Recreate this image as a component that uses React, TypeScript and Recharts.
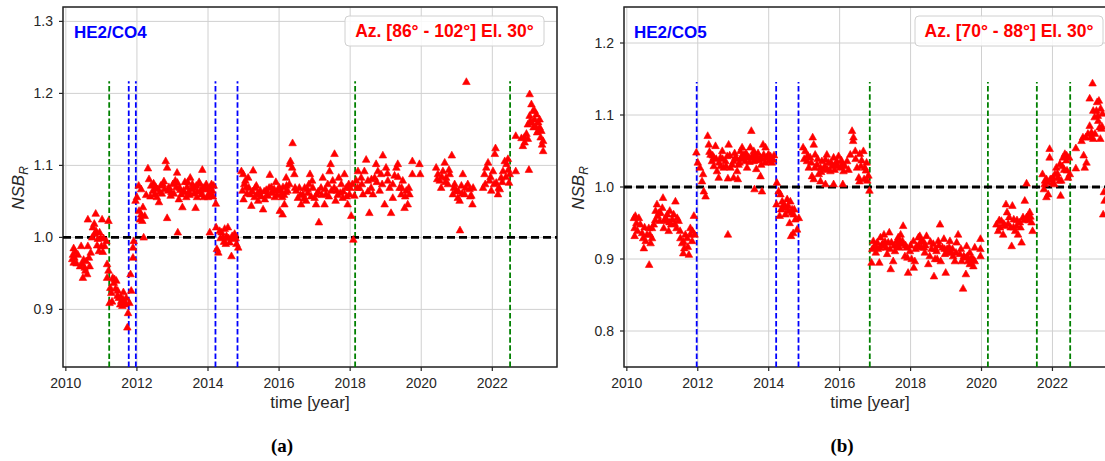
import {
  ScatterChart,
  Scatter,
  XAxis,
  YAxis,
  CartesianGrid,
  ReferenceLine,
  ReferenceArea
} from 'recharts';

type Pt = [number, number];

const xTicks = [2010, 2012, 2014, 2016, 2018, 2020, 2022];
const xDomain: [number, number] = [2009.92, 2023.82];
const co4YTicks = [0.9, 1.0, 1.1, 1.2, 1.3];
const co5YTicks = [0.8, 0.9, 1.0, 1.1, 1.2];

// vertical markers (years)
const co4Blue = [2011.77, 2011.97, 2014.21, 2014.83];
const co4Green = [2011.22, 2018.14, 2022.5];
const co5Blue = [2011.97, 2014.21, 2014.84];
const co5Green = [2016.85, 2020.18, 2021.56, 2022.5];

// ---- HE2/CO4 ----
const co4Early: Pt[] = [
  [2010.22, 0.986], [2010.2, 0.977], [2010.24, 0.973], [2010.22, 0.966], [2010.27, 0.981], [2010.18, 0.971],
  [2010.34, 0.977], [2010.43, 0.989], [2010.62, 0.989], [2010.46, 0.964], [2010.53, 0.959], [2010.57, 0.968],
  [2010.65, 0.973], [2010.67, 0.961], [2010.48, 0.945], [2010.55, 0.955], [2010.4, 0.961], [2010.62, 1.026],
  [2010.84, 1.034], [2011.02, 1.026], [2010.76, 1.015], [2010.85, 1.01], [2010.81, 1.006], [2010.95, 1.008],
  [2010.74, 1.001], [2010.9, 0.999], [2011.0, 0.989], [2011.09, 0.989], [2010.93, 0.982], [2011.04, 0.981],
  [2011.14, 0.996], [2011.2, 1.024], [2010.3, 0.965], [2010.5, 0.97], [2010.6, 0.95], [2010.7, 0.98],
  [2010.8, 1.02], [2010.88, 0.99], [2010.98, 1.0], [2011.06, 1.0]
];
const co4Dip: Pt[] = [
  [2011.16, 0.964], [2011.2, 0.955], [2011.16, 0.945], [2011.25, 0.931], [2011.28, 0.924], [2011.23, 0.91],
  [2011.32, 0.945], [2011.37, 0.943], [2011.42, 0.941], [2011.46, 0.927], [2011.49, 0.917], [2011.56, 0.913],
  [2011.61, 0.915], [2011.65, 0.908], [2011.53, 0.908], [2011.59, 0.906], [2011.7, 0.917], [2011.75, 0.896],
  [2011.79, 0.91], [2011.84, 0.927], [2011.73, 0.876], [2011.82, 0.95], [2011.89, 0.973], [2011.89, 0.987],
  [2011.91, 0.996], [2011.35, 0.938], [2011.4, 0.93], [2011.3, 0.912], [2011.45, 0.92], [2011.55, 0.918],
  [2011.62, 0.925], [2011.68, 0.91]
];
const co4Mid: Pt[] = [
  [2011.96, 1.052], [2012.0, 1.057], [2012.06, 1.038], [2012.09, 1.026], [2012.15, 1.024], [2012.12, 1.033],
  [2012.17, 1.043], [2012.22, 1.031], [2012.05, 1.073], [2012.12, 1.068], [2012.19, 1.001], [2012.31, 1.097],
  [2012.34, 1.082], [2012.4, 1.073], [2012.45, 1.066], [2012.53, 1.071], [2012.56, 1.057], [2012.62, 1.05],
  [2012.67, 1.073], [2012.73, 1.075], [2012.81, 1.107], [2012.85, 1.098], [2012.85, 1.028], [2012.9, 1.071],
  [2012.95, 1.059], [2013.01, 1.075], [2013.08, 1.08], [2013.13, 1.091], [2013.15, 1.008], [2013.18, 1.054],
  [2013.22, 1.067], [2013.28, 1.043], [2013.31, 1.066], [2013.35, 1.078], [2013.41, 1.071], [2013.46, 1.065],
  [2013.5, 1.084], [2013.56, 1.075], [2013.61, 1.062], [2013.65, 1.042], [2013.69, 1.057], [2013.75, 1.078],
  [2013.79, 1.066], [2013.84, 1.095], [2013.88, 1.057], [2013.92, 1.068], [2013.95, 1.075], [2014.01, 1.061],
  [2014.07, 1.071], [2014.12, 1.066], [2014.16, 1.073], [2014.22, 1.048], [2014.05, 1.008], [2012.5, 1.061],
  [2012.64, 1.064], [2012.78, 1.068], [2012.97, 1.064], [2013.11, 1.071], [2013.25, 1.061], [2013.39, 1.057],
  [2013.53, 1.068], [2013.67, 1.073], [2013.81, 1.061], [2014.0, 1.057], [2014.09, 1.061],
  [2012.26, 1.06], [2012.38, 1.058], [2012.47, 1.076], [2012.58, 1.068], [2012.7, 1.062], [2012.76, 1.079],
  [2012.88, 1.066], [2013.04, 1.062], [2013.14, 1.077], [2013.2, 1.07], [2013.33, 1.064], [2013.43, 1.078],
  [2013.48, 1.06], [2013.6, 1.07], [2013.7, 1.065], [2013.77, 1.075], [2013.86, 1.07], [2013.98, 1.068],
  [2014.1, 1.075], [2014.14, 1.058]
];
const co4Step: Pt[] = [
  [2014.23, 1.015], [2014.25, 0.985], [2014.29, 0.98], [2014.33, 1.01], [2014.38, 1.008], [2014.42, 1.001],
  [2014.47, 1.013], [2014.52, 1.003], [2014.56, 1.015], [2014.61, 0.994], [2014.66, 0.975], [2014.7, 0.999],
  [2014.75, 1.006], [2014.8, 0.992], [2014.85, 0.987], [2014.5, 0.992], [2014.35, 1.0], [2014.45, 0.995],
  [2014.58, 1.0], [2014.68, 1.003], [2014.78, 1.0]
];
const co4Late: Pt[] = [
  [2014.94, 1.093], [2014.99, 1.089], [2015.05, 1.08], [2015.13, 1.084], [2015.27, 1.094], [2014.97, 1.066],
  [2015.08, 1.071], [2015.19, 1.061], [2015.31, 1.057], [2015.41, 1.052], [2015.47, 1.066], [2015.55, 1.04],
  [2015.64, 1.067], [2015.74, 1.088], [2015.83, 1.066], [2015.91, 1.078], [2016.02, 1.038], [2016.09, 1.057],
  [2016.19, 1.064], [2016.3, 1.103], [2015.0, 1.054], [2015.22, 1.045], [2015.36, 1.073], [2015.6, 1.054],
  [2015.97, 1.068], [2015.46, 1.061], [2015.69, 1.059], [2015.78, 1.071], [2015.88, 1.057], [2016.11, 1.071],
  [2016.21, 1.073], [2015.02, 1.075], [2015.1, 1.062], [2015.15, 1.07], [2015.25, 1.065], [2015.33, 1.07],
  [2015.39, 1.062], [2015.5, 1.058], [2015.58, 1.065], [2015.66, 1.06], [2015.72, 1.07], [2015.8, 1.063],
  [2015.86, 1.068], [2015.94, 1.06], [2016.05, 1.066], [2016.14, 1.06],
  [2016.01, 1.07], [2016.06, 1.061], [2016.1, 1.033], [2016.15, 1.047], [2016.2, 1.084], [2016.24, 1.066],
  [2016.32, 1.107], [2016.38, 1.132], [2016.37, 1.098], [2016.43, 1.089], [2016.48, 1.066], [2016.53, 1.056],
  [2016.57, 1.07], [2016.62, 1.047], [2016.67, 1.061], [2016.72, 1.07], [2016.76, 1.052], [2016.81, 1.063],
  [2016.87, 1.089], [2016.93, 1.08], [2016.95, 1.07], [2017.0, 1.056], [2017.04, 1.047], [2017.12, 1.022],
  [2017.18, 1.07], [2017.23, 1.084], [2017.28, 1.047], [2017.32, 1.061], [2017.37, 1.075], [2017.42, 1.093],
  [2017.45, 1.103], [2017.51, 1.08], [2017.56, 1.117], [2017.59, 1.052], [2017.62, 1.066], [2017.68, 1.084],
  [2017.75, 1.075], [2017.79, 1.056], [2017.84, 1.089], [2017.89, 1.07], [2017.93, 1.047], [2017.98, 1.061],
  [2018.03, 1.031], [2018.06, 1.075], [2018.09, 0.998], [2016.29, 1.075], [2016.84, 1.075], [2017.06, 1.061],
  [2017.47, 1.066], [2017.72, 1.063], [2017.96, 1.075], [2016.45, 1.07], [2016.6, 1.06], [2016.7, 1.055],
  [2016.8, 1.068], [2016.9, 1.058], [2017.1, 1.065], [2017.2, 1.06], [2017.3, 1.068], [2017.4, 1.058],
  [2017.55, 1.07], [2017.65, 1.06], [2017.8, 1.065], [2017.9, 1.058], [2018.0, 1.07]
];
const co4Recent: Pt[] = [
  [2018.12, 1.059], [2018.17, 1.08], [2018.22, 1.093], [2018.26, 1.07], [2018.31, 1.084], [2018.36, 1.061],
  [2018.4, 1.093], [2018.45, 1.109], [2018.5, 1.08], [2018.54, 1.035], [2018.59, 1.07], [2018.64, 1.061],
  [2018.69, 1.084], [2018.73, 1.103], [2018.78, 1.093], [2018.83, 1.066], [2018.87, 1.089], [2018.92, 1.115],
  [2018.97, 1.047], [2019.01, 1.098], [2019.06, 1.08], [2019.11, 1.07], [2019.15, 1.035], [2019.2, 1.056],
  [2019.25, 1.087], [2019.3, 1.098], [2019.34, 1.103], [2019.39, 1.07], [2019.44, 1.061], [2019.48, 1.08],
  [2019.53, 1.042], [2019.58, 1.066], [2019.62, 1.047], [2019.67, 1.061], [2019.75, 1.107], [2019.75, 1.089],
  [2019.95, 1.103], [2019.97, 1.089], [2018.2, 1.07], [2018.33, 1.075], [2018.5, 1.065], [2018.6, 1.082],
  [2018.75, 1.078], [2018.9, 1.075], [2019.05, 1.09], [2019.2, 1.075], [2019.35, 1.085], [2019.45, 1.07],
  [2019.55, 1.058], [2019.65, 1.07],
  [2020.42, 1.098], [2020.47, 1.089], [2020.52, 1.08], [2020.56, 1.07], [2020.61, 1.093], [2020.66, 1.105],
  [2020.7, 1.084], [2020.75, 1.075], [2020.8, 1.089], [2020.86, 1.115], [2020.89, 1.061], [2020.94, 1.075],
  [2020.99, 1.066], [2021.03, 1.056], [2021.08, 1.052], [2021.09, 1.011], [2021.13, 1.073], [2021.17, 1.089],
  [2021.22, 1.061], [2021.27, 1.217], [2021.31, 1.075], [2021.36, 1.068], [2021.41, 1.059], [2021.44, 1.047],
  [2021.46, 1.07], [2020.45, 1.082], [2020.58, 1.085], [2020.68, 1.078], [2020.78, 1.095], [2020.92, 1.07],
  [2021.05, 1.065], [2021.15, 1.062], [2021.25, 1.07], [2021.38, 1.058],
  [2021.74, 1.07], [2021.78, 1.089], [2021.83, 1.098], [2021.88, 1.105], [2021.92, 1.08], [2021.97, 1.066],
  [2022.02, 1.093], [2022.07, 1.117], [2022.09, 1.125], [2022.11, 1.077], [2022.16, 1.061], [2022.21, 1.068],
  [2022.25, 1.084], [2022.3, 1.093], [2022.35, 1.107], [2022.4, 1.103], [2022.44, 1.11], [2022.47, 1.077],
  [2022.49, 1.089], [2021.8, 1.075], [2021.95, 1.085], [2022.05, 1.075], [2022.18, 1.07], [2022.28, 1.078],
  [2022.38, 1.085], [2022.45, 1.095]
];
const co4Final: Pt[] = [
  [2022.66, 1.142], [2022.66, 1.093], [2022.82, 1.139], [2022.86, 1.128], [2022.91, 1.133], [2022.96, 1.145],
  [2023.0, 1.158], [2023.05, 1.2], [2023.1, 1.186], [2023.15, 1.177], [2023.19, 1.165], [2023.24, 1.172],
  [2023.29, 1.161], [2023.33, 1.154], [2023.38, 1.149], [2023.43, 1.135], [2023.43, 1.121], [2023.03, 1.095],
  [2023.07, 1.163], [2023.16, 1.154], [2023.26, 1.147], [2023.36, 1.14], [2023.0, 1.138], [2023.19, 1.177],
  [2023.33, 1.165], [2022.9, 1.14], [2023.05, 1.17], [2023.12, 1.16], [2023.22, 1.155], [2023.3, 1.15],
  [2023.4, 1.13]
];

// ---- HE2/CO5 ----
const co5Early: Pt[] = [
  [2010.2, 0.958], [2010.24, 0.961], [2010.22, 0.944], [2010.27, 0.951], [2010.22, 0.933], [2010.34, 0.958],
  [2010.43, 0.937], [2010.46, 0.93], [2010.48, 0.916], [2010.53, 0.926], [2010.57, 0.935], [2010.62, 0.944],
  [2010.63, 0.893], [2010.67, 0.923], [2010.71, 0.93], [2010.76, 0.949], [2010.81, 0.968], [2010.85, 0.977],
  [2010.87, 0.961], [2010.93, 0.954], [2010.95, 0.965], [2011.0, 0.972], [2011.02, 0.986], [2011.04, 0.944],
  [2011.09, 0.958], [2011.14, 0.954], [2011.18, 0.94], [2011.21, 0.968], [2011.25, 0.949], [2011.28, 0.956],
  [2011.32, 0.963], [2011.37, 0.981], [2011.4, 0.944], [2011.42, 0.958], [2011.46, 0.954], [2011.51, 0.93],
  [2011.56, 0.923], [2011.59, 0.909], [2011.62, 0.916], [2011.65, 0.935], [2011.7, 0.93], [2011.75, 0.907],
  [2011.79, 0.935], [2011.84, 0.926], [2011.89, 0.961], [2011.91, 0.935], [2010.38, 0.949], [2010.71, 0.944],
  [2011.14, 0.963], [2011.79, 0.944], [2010.3, 0.94], [2010.5, 0.945], [2010.65, 0.935], [2010.8, 0.955],
  [2010.9, 0.965], [2011.06, 0.955], [2011.2, 0.952], [2011.35, 0.95], [2011.5, 0.94], [2011.6, 0.925],
  [2011.72, 0.918], [2011.85, 0.94]
];
const co5High1: Pt[] = [
  [2011.96, 1.049], [2012.0, 1.035], [2012.06, 1.028], [2012.12, 1.009], [2012.17, 0.995], [2012.22, 0.988],
  [2012.15, 1.019], [2012.28, 1.072], [2012.31, 1.06], [2012.36, 1.046], [2012.4, 1.037], [2012.45, 1.03],
  [2012.5, 1.058], [2012.54, 1.023], [2012.59, 1.014], [2012.64, 1.042], [2012.69, 1.051], [2012.73, 1.028],
  [2012.78, 1.037], [2012.83, 1.044], [2012.85, 1.013], [2012.87, 1.06], [2012.92, 1.028], [2012.97, 1.032],
  [2012.85, 0.935], [2013.01, 1.014], [2013.06, 1.042], [2013.11, 1.023], [2013.13, 1.012], [2013.15, 1.032],
  [2013.2, 1.051], [2013.22, 1.042], [2013.25, 1.056], [2013.3, 1.046], [2013.34, 1.037], [2013.39, 1.028],
  [2013.44, 1.042], [2013.48, 1.056], [2013.51, 1.079], [2013.53, 1.044], [2013.58, 1.037], [2013.6, 0.998],
  [2013.62, 1.046], [2013.65, 1.026], [2013.67, 1.042], [2013.72, 1.039], [2013.77, 1.016], [2013.79, 1.032],
  [2013.81, 0.995], [2013.84, 1.06], [2013.86, 1.046], [2013.91, 1.056], [2013.95, 1.042], [2014.0, 1.037],
  [2014.05, 1.044], [2014.09, 1.035], [2014.12, 1.039], [2012.45, 1.042], [2012.64, 1.03], [2013.01, 1.037],
  [2013.25, 1.044], [2013.39, 1.044], [2013.58, 1.051], [2013.77, 1.042], [2014.0, 1.046],
  [2012.33, 1.05], [2012.42, 1.045], [2012.52, 1.04], [2012.6, 1.035], [2012.7, 1.04], [2012.8, 1.03],
  [2012.9, 1.045], [2013.04, 1.048], [2013.1, 1.04], [2013.18, 1.035], [2013.28, 1.04], [2013.36, 1.048],
  [2013.46, 1.036], [2013.55, 1.042], [2013.64, 1.038], [2013.7, 1.048], [2013.82, 1.04], [2013.9, 1.035],
  [2013.98, 1.045], [2014.08, 1.04], [2014.15, 1.045]
];
const co5Step: Pt[] = [
  [2014.23, 1.007], [2014.28, 0.995], [2014.33, 0.991], [2014.22, 0.977], [2014.38, 0.981], [2014.42, 0.977],
  [2014.47, 0.972], [2014.52, 0.984], [2014.56, 0.968], [2014.61, 0.981], [2014.66, 0.97], [2014.7, 0.963],
  [2014.75, 0.956], [2014.69, 0.937], [2014.63, 0.933], [2014.8, 0.942], [2014.31, 0.961], [2014.47, 0.963],
  [2014.59, 0.951], [2014.85, 0.958], [2014.35, 0.97], [2014.45, 0.975], [2014.55, 0.975], [2014.65, 0.965],
  [2014.72, 0.97]
];
const co5High2: Pt[] = [
  [2014.97, 1.056], [2015.03, 1.051], [2015.08, 1.037], [2015.13, 1.028], [2015.17, 1.042], [2015.24, 1.07],
  [2015.27, 1.06], [2015.31, 1.046], [2015.36, 1.032], [2015.41, 1.019], [2015.46, 1.028], [2015.5, 1.037],
  [2015.55, 1.026], [2015.6, 1.039], [2015.64, 1.046], [2015.69, 1.035], [2015.74, 1.023], [2015.78, 1.03],
  [2015.83, 1.042], [2015.88, 1.032], [2015.92, 1.037], [2015.97, 1.044], [2016.02, 1.028], [2016.07, 1.032],
  [2016.09, 1.005], [2015.83, 1.005], [2015.6, 1.005], [2015.27, 1.012], [2015.46, 1.009], [2015.22, 1.016],
  [2016.11, 1.023], [2016.21, 1.037], [2016.3, 1.046], [2016.35, 1.079], [2016.38, 1.065], [2016.39, 1.07],
  [2016.44, 1.051], [2016.49, 1.028], [2016.54, 1.014], [2016.56, 1.009], [2016.57, 1.047], [2016.62, 1.038],
  [2016.67, 1.051], [2016.69, 1.012], [2016.71, 1.028], [2016.74, 1.024], [2016.78, 1.01], [2016.81, 1.017],
  [2016.84, 0.996], [2015.0, 1.04], [2015.1, 1.045], [2015.2, 1.035], [2015.3, 1.028], [2015.38, 1.04],
  [2015.48, 1.022], [2015.58, 1.03], [2015.66, 1.025], [2015.76, 1.035], [2015.86, 1.025], [2015.95, 1.03],
  [2016.05, 1.038], [2016.15, 1.03], [2016.25, 1.025], [2016.45, 1.04], [2016.6, 1.03], [2016.76, 1.035]
];
const co5Low: Pt[] = [
  [2016.9, 0.896], [2016.95, 0.926], [2016.97, 0.917], [2017.02, 0.91], [2017.06, 0.924], [2017.12, 0.896],
  [2017.15, 0.931], [2017.21, 0.922], [2017.25, 0.935], [2017.31, 0.917], [2017.34, 0.908], [2017.4, 0.938],
  [2017.44, 0.887], [2017.46, 0.924], [2017.51, 0.898], [2017.56, 0.912], [2017.61, 0.926], [2017.65, 0.931],
  [2017.68, 0.917], [2017.72, 0.935], [2017.75, 0.922], [2017.79, 0.947], [2017.84, 0.905], [2017.89, 0.917],
  [2017.93, 0.882], [2017.98, 0.912], [2018.03, 0.901], [2018.08, 0.926], [2018.09, 0.889], [2018.12, 0.898],
  [2018.17, 0.919], [2018.22, 0.931], [2018.26, 0.933], [2018.31, 0.917], [2018.36, 0.926], [2018.4, 0.91],
  [2018.45, 0.933], [2018.5, 0.894], [2018.54, 0.905], [2018.59, 0.915], [2018.64, 0.922], [2018.66, 0.877],
  [2018.69, 0.901], [2018.73, 0.912], [2018.78, 0.926], [2018.83, 0.949], [2018.85, 0.898], [2018.9, 0.917],
  [2018.94, 0.929], [2018.97, 0.908], [2018.99, 0.882], [2019.03, 0.915], [2019.09, 0.917], [2019.15, 0.91],
  [2019.2, 0.905], [2019.25, 0.898], [2019.3, 0.924], [2019.34, 0.935], [2019.39, 0.908], [2019.44, 0.898],
  [2019.48, 0.86], [2019.53, 0.903], [2019.56, 0.88], [2019.58, 0.919], [2019.62, 0.898], [2019.67, 0.894],
  [2019.72, 0.903], [2019.77, 0.891], [2019.81, 0.898], [2019.81, 0.917], [2019.97, 0.929], [2019.97, 0.915],
  [2019.97, 0.905], [2017.14, 0.917], [2017.37, 0.924], [2017.63, 0.919], [2017.77, 0.926], [2017.91, 0.903],
  [2018.24, 0.919], [2018.38, 0.917], [2018.75, 0.901], [2019.11, 0.926], [2019.67, 0.91],
  [2016.92, 0.915], [2017.0, 0.92], [2017.08, 0.915], [2017.18, 0.92], [2017.28, 0.925], [2017.42, 0.915],
  [2017.54, 0.92], [2017.7, 0.925], [2017.86, 0.92], [2018.0, 0.92], [2018.14, 0.915], [2018.28, 0.925],
  [2018.42, 0.92], [2018.56, 0.925], [2018.7, 0.915], [2018.8, 0.92], [2018.96, 0.915], [2019.06, 0.91],
  [2019.18, 0.915], [2019.28, 0.91], [2019.42, 0.915], [2019.5, 0.905], [2019.6, 0.905], [2019.7, 0.895],
  [2019.78, 0.9]
];
const co5Mid: Pt[] = [
  [2020.42, 0.949], [2020.47, 0.94], [2020.52, 0.945], [2020.56, 0.954], [2020.61, 0.935], [2020.66, 0.947],
  [2020.69, 0.977], [2020.72, 0.966], [2020.78, 0.959], [2020.82, 0.945], [2020.85, 0.919], [2020.87, 0.975],
  [2020.91, 0.956], [2020.95, 0.94], [2020.99, 0.947], [2021.03, 0.935], [2021.08, 0.952], [2021.13, 0.924],
  [2021.17, 0.959], [2021.22, 0.982], [2021.27, 0.959], [2021.31, 0.961], [2021.36, 0.966], [2021.41, 0.952],
  [2021.44, 0.94], [2021.27, 1.006], [2020.5, 0.955], [2020.63, 0.95], [2020.75, 0.95], [2020.9, 0.945],
  [2021.0, 0.955], [2021.1, 0.945], [2021.2, 0.955], [2021.33, 0.955], [2021.38, 0.96]
];
const co5Rise: Pt[] = [
  [2021.72, 1.019], [2021.76, 0.998], [2021.79, 1.01], [2021.83, 0.987], [2021.88, 0.991], [2021.92, 1.054],
  [2021.92, 1.042], [2021.94, 1.012], [2022.0, 1.007], [2022.07, 1.019], [2022.11, 1.028], [2022.16, 1.014],
  [2022.21, 1.033], [2022.23, 0.989], [2022.25, 1.01], [2022.3, 1.042], [2022.35, 1.047], [2022.39, 1.038],
  [2022.41, 1.024], [2022.44, 1.014], [2022.47, 1.042], [2022.49, 1.019], [2022.02, 1.014], [2021.83, 1.012],
  [2021.78, 1.005], [2021.86, 1.008], [2021.98, 1.012], [2022.05, 1.005], [2022.14, 1.02], [2022.2, 1.01],
  [2022.28, 1.03], [2022.33, 1.025], [2022.4, 1.045]
];
const co5Final: Pt[] = [
  [2022.66, 1.055], [2022.66, 1.027], [2022.82, 1.065], [2022.88, 1.045], [2022.91, 1.028], [2022.96, 1.035],
  [2022.86, 1.07], [2022.94, 1.07], [2023.0, 1.075], [2023.05, 1.086], [2023.1, 1.077], [2023.13, 1.145],
  [2023.15, 1.068], [2023.19, 1.098], [2023.24, 1.107], [2023.26, 1.119], [2023.29, 1.093], [2023.31, 1.121],
  [2023.33, 1.084], [2023.35, 1.068], [2023.38, 1.082], [2023.41, 1.103], [2023.45, 0.994], [2023.47, 0.982],
  [2023.43, 0.963], [2023.05, 1.124], [2023.15, 1.107], [2023.08, 1.07], [2023.2, 1.075], [2023.28, 1.1],
  [2023.36, 1.11], [2023.4, 1.085]
];

const co4Points = [...co4Early, ...co4Dip, ...co4Mid, ...co4Step, ...co4Late, ...co4Recent, ...co4Final];
const co5Points = [...co5Early, ...co5High1, ...co5Step, ...co5High2, ...co5Low, ...co5Mid, ...co5Rise, ...co5Final];

const ink = '#262626';

// matplotlib-like '^' marker, bbox centred on the point
function TriangleMark(props: any) {
  const { cx, cy } = props;
  if (cx == null || cy == null) return null;
  const hw = 3.8;
  const hh = 3.4;
  return (
    <polygon
      points={`${cx},${cy - hh} ${cx - hw},${cy + hh} ${cx + hw},${cy + hh}`}
      fill="#ff0000"
      stroke="#ff0000"
      strokeWidth={0.6}
    />
  );
}

interface PanelProps {
  left: number;
  yAxisWidth: number;
  points: Pt[];
  yDomain: [number, number];
  yTicks: number[];
  blue: number[];
  green: number[];
  lineTop: number;
}

function Panel({ left, yAxisWidth, points, yDomain, yTicks, blue, green, lineTop }: PanelProps) {
  const data = points.map(([x, y]) => ({ x, y }));
  const vline = (x: number, color: string) => (
    <ReferenceLine
      key={color + x}
      segment={[{ x, y: yDomain[0] }, { x, y: lineTop }]}
      stroke={color}
      strokeWidth={1.8}
      strokeDasharray="5.5 2.6"
    />
  );
  return (
    <div style={{ position: 'absolute', left, top: 0 }}>
      <ScatterChart width={600} height={461} margin={{ top: 7, right: 43, bottom: 64, left: 0 }}>
        <CartesianGrid stroke="#d0d0d0" strokeWidth={1} />
        <XAxis
          type="number"
          dataKey="x"
          domain={xDomain}
          ticks={xTicks}
          allowDataOverflow
          height={30}
          axisLine={false}
          tickLine={{ stroke: ink, strokeWidth: 1.2 }}
          tickSize={4}
          tickMargin={7}
          tick={{ fill: ink, fontSize: 14 }}
        />
        <YAxis
          type="number"
          dataKey="y"
          domain={yDomain}
          ticks={yTicks}
          allowDataOverflow
          width={yAxisWidth}
          axisLine={false}
          tickLine={{ stroke: ink, strokeWidth: 1.2 }}
          tickSize={4}
          tickMargin={6}
          tick={{ fill: ink, fontSize: 14 }}
          tickFormatter={(v: number) => v.toFixed(1)}
        />
        <Scatter data={data} fill="#ff0000" shape={TriangleMark} isAnimationActive={false} />
        {green.map((x) => vline(x, '#008000'))}
        {blue.map((x) => vline(x, '#0000ff'))}
        <ReferenceLine y={1} stroke="#000000" strokeWidth={2.8} strokeDasharray="8 4" />
        <ReferenceArea
          x1={xDomain[0]}
          x2={xDomain[1]}
          y1={yDomain[0]}
          y2={yDomain[1]}
          fill="none"
          fillOpacity={0}
          stroke={ink}
          strokeWidth={1.5}
          ifOverflow="visible"
        />
      </ScatterChart>
    </div>
  );
}

export default function App() {
  return (
    <div
      style={{
        position: 'fixed',
        left: 0,
        top: 0,
        width: 1105,
        height: 461,
        overflow: 'hidden',
        background: '#ffffff',
        fontFamily: '"Liberation Sans", Arial, sans-serif'
      }}
    >
      <Panel left={0} yAxisWidth={63} points={co4Points} yDomain={[0.82, 1.32]} yTicks={co4YTicks}
        blue={co4Blue} green={co4Green} lineTop={1.217} />
      <Panel left={560} yAxisWidth={64} points={co5Points} yDomain={[0.75, 1.25]} yTicks={co5YTicks}
        blue={co5Blue} green={co5Green} lineTop={1.146} />
      <svg width={1105} height={461} style={{ position: 'absolute', left: 0, top: 0, pointerEvents: 'none' }}>
        <text x={74} y={38} fill="#0000ff" fontSize={17} fontWeight="bold">HE2/CO4</text>
        <text x={634} y={38} fill="#0000ff" fontSize={17} fontWeight="bold">HE2/CO5</text>

        <rect x={345} y={16} width={199} height={30} rx={4} fill="#ffffff" fillOpacity={0.85} stroke="#d0d0d0" />
        <text x={444.5} y={37} textAnchor="middle" fill="#ff0000" fontSize={17.5} fontWeight="bold">
          Az. [86° - 102°] El. 30°
        </text>
        <rect x={915} y={16} width={188} height={30} rx={4} fill="#ffffff" fillOpacity={0.85} stroke="#d0d0d0" />
        <text x={1009} y={37} textAnchor="middle" fill="#ff0000" fontSize={17.5} fontWeight="bold">
          Az. [70° - 88°] El. 30°
        </text>

        <text x={310} y={408} textAnchor="middle" fill={ink} fontSize={17}>time [year]</text>
        <text x={870} y={408} textAnchor="middle" fill={ink} fontSize={17}>time [year]</text>

        <text transform="translate(23.5,188) rotate(-90)" textAnchor="middle" fill={ink} fontSize={17} fontStyle="italic">
          NSB<tspan fontSize={12} dy={4}>R</tspan>
        </text>
        <text transform="translate(584,188) rotate(-90)" textAnchor="middle" fill={ink} fontSize={17} fontStyle="italic">
          NSB<tspan fontSize={12} dy={4}>R</tspan>
        </text>

        <text x={282} y={452} textAnchor="middle" fill="#000" fontSize={19} fontWeight="bold"
          fontFamily='"Liberation Serif", "Times New Roman", serif'>(a)</text>
        <text x={842} y={452} textAnchor="middle" fill="#000" fontSize={19} fontWeight="bold"
          fontFamily='"Liberation Serif", "Times New Roman", serif'>(b)</text>
      </svg>
    </div>
  );
}
